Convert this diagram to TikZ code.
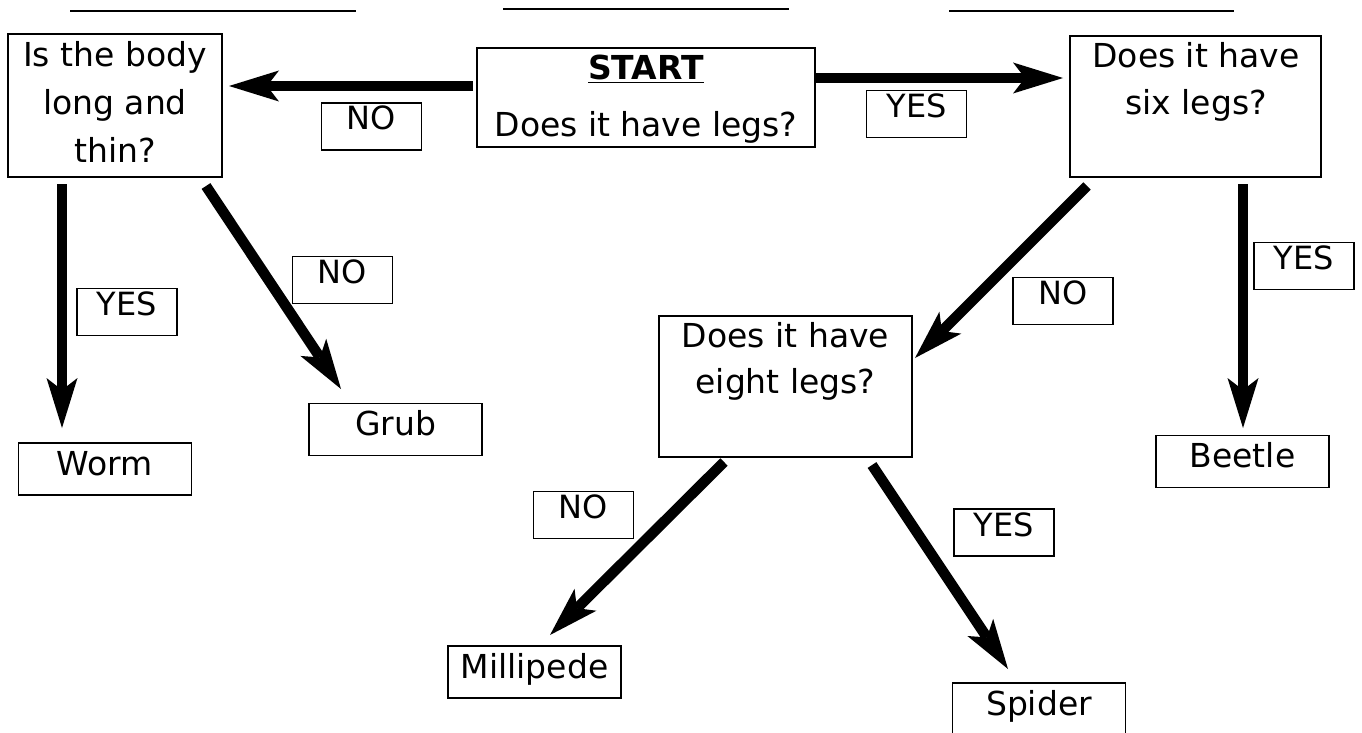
\documentclass[tikz,border=0pt]{standalone}
\usepackage{fontspec}
\setmainfont{DejaVu Sans}
\usetikzlibrary{arrows.meta}
\begin{document}
\begin{tikzpicture}[x=1pt,y=-1pt,
  qbox/.style={draw, line width=1.8pt, inner sep=0pt},
  qtext/.style={anchor=base, inner sep=0pt},
  leaf/.style={draw, line width=1.8pt, inner sep=0pt, minimum width=173pt,
    text height=32pt, text depth=20pt, font=\fontsize{33}{40}\selectfont},
  lab/.style={draw, line width=1.8pt, inner sep=0pt, minimum width=100pt,
    text height=27pt, text depth=20pt, font=\fontsize{32}{40}\selectfont},
  arr/.style={line width=10.5pt, -{Stealth[length=50pt,width=31pt,inset=12pt,line width=0pt]}},
  uline/.style={line width=2.5pt}]
\useasboundingbox (0,0) rectangle (1362,733);
\clip (0,0) rectangle (1362,733);
\fill[white] (0,0) rectangle (1362,733);

% blank answer lines
\draw[uline] (70,11) -- (356,11);
\draw[uline] (503,9) -- (789,9);
\draw[uline] (949,11) -- (1234,11);

% question boxes
\node[qbox, minimum width=214pt, minimum height=143pt] (body) at (115,105.5) {};
\node[qbox, minimum width=338pt, minimum height=99pt] (start) at (646,97.5) {};
\node[qbox, minimum width=251pt, minimum height=141pt] (six) at (1195.5,106.5) {};
\node[qbox, minimum width=253pt, minimum height=141pt] (eight) at (785.5,386.5) {};

\node[qtext, font=\fontsize{33}{48}\selectfont] (bodyt) at (115,67)
  {\begin{tabular}[t]{@{}c@{}}Is the body\\long and\\thin?\end{tabular}};
\node[qtext, font=\fontsize{33}{48}\selectfont] (startt) at (646,80)
  {\begin{tabular}[t]{@{}c@{}}\underline{\textbf{START}}\\[9pt]Does it have legs?\end{tabular}};
\node[qtext, font=\fontsize{33}{47}\selectfont] (sixt) at (1196,68)
  {\begin{tabular}[t]{@{}c@{}}Does it have\\six legs?\end{tabular}};
\node[qtext, font=\fontsize{33}{46}\selectfont] (eightt) at (785.5,347)
  {\begin{tabular}[t]{@{}c@{}}Does it have\\eight legs?\end{tabular}};

% answer boxes
\node[leaf] (worm) at (105,469) {Worm};
\node[leaf] (grub) at (395.5,429.5) {Grub};
\node[leaf] (milli) at (534.5,672) {Millipede};
\node[leaf] (beetle) at (1242.5,461.5) {Beetle};
\node[leaf] (spider) at (1039,709) {Spider};

% YES / NO labels
\node[lab] (no1) at (371.5,126.5) {NO};
\node[lab] (yes1) at (916.5,114) {YES};
\node[lab] (yes2) at (127,312) {YES};
\node[lab] (no2) at (342.5,280) {NO};
\node[lab] (no3) at (1063,301) {NO};
\node[lab] (yes3) at (1304,266) {YES};
\node[lab] (no4) at (583.5,515) {NO};
\node[lab] (yes4) at (1004,532.5) {YES};

% connector end points
\coordinate (a1s) at (473,86);   \coordinate (a1e) at (229,86);
\coordinate (a2s) at (816,78);   \coordinate (a2e) at (1063,78);
\coordinate (a3s) at (62,184);   \coordinate (a3e) at (62,428);
\coordinate (a4s) at (206,186);  \coordinate (a4e) at (341,389);
\coordinate (a5s) at (1087,186); \coordinate (a5e) at (915,358);
\coordinate (a6s) at (1243,184); \coordinate (a6e) at (1243,428);
\coordinate (a7s) at (724,462);  \coordinate (a7e) at (550,635);
\coordinate (a8s) at (872,465);  \coordinate (a8e) at (1008,669);

\draw[arr] (a1s) -- (a1e);
\draw[arr] (a2s) -- (a2e);
\draw[arr] (a3s) -- (a3e);
\draw[arr] (a4s) -- (a4e);
\draw[arr] (a5s) -- (a5e);
\draw[arr] (a6s) -- (a6e);
\draw[arr] (a7s) -- (a7e);
\draw[arr] (a8s) -- (a8e);
\end{tikzpicture}
\end{document}
